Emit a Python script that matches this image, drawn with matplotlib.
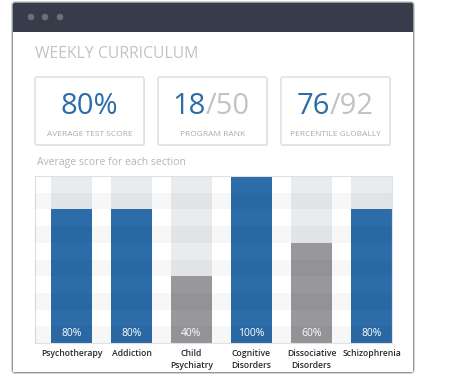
import matplotlib.pyplot as plt
from matplotlib.patches import FancyBboxPatch, Rectangle, Circle
from matplotlib.transforms import Affine2D

W, H = 450, 383

# data
categories = ["Psychotherapy", "Addiction", "Child\nPsychiatry",
              "Cognitive\nDisorders", "Dissociative\nDisorders", "Schizophrenia"]
scores = [80, 80, 40, 100, 60, 80]
stat_main = ["80%", "18", "76"]
stat_total = ["", "/50", "/92"]
stat_labels = ["AVERAGE TEST SCORE", "PROGRAM RANK", "PERCENTILE GLOBALLY"]

BLUE = "#2b6ca9"
GRAY = "#98979c"
LIGHT = "#c3c3c3"
FONT = "Open Sans"

fig = plt.figure(figsize=(W / 100, H / 100), dpi=100)
# pixel coords, origin top-left
px = Affine2D().scale(1 / W, -1 / H).translate(0, 1) + fig.transFigure

# window frame
fig.add_artist(FancyBboxPatch((12, 2), 402, 371, boxstyle="round,pad=0,rounding_size=3",
                              fc="#363c49", ec="none", transform=px, zorder=-3))
fig.add_artist(Rectangle((13, 32), 400, 340, fc="white", ec="none", transform=px, zorder=-2))
fig.add_artist(FancyBboxPatch((12, 2), 402, 371, boxstyle="round,pad=0,rounding_size=3",
                              fc="none", ec="#bfc0c6", lw=1.0, transform=px, zorder=-1))
for cx in (31, 45, 60):
    fig.add_artist(Circle((cx, 17), 3.3, fc="#6a6f7a", ec="none", transform=px))

fig.text(35, 54, "WEEKLY CURRICULUM", transform=px, fontsize=11.3, family=FONT,
         color=LIGHT, va="center", ha="left")

# stat boxes
box_x = [35, 158, 281]
split_x = [None, 206, 330]
for i in range(3):
    x0 = box_x[i]
    fig.add_artist(FancyBboxPatch((x0 + 1, 78), 109, 68, boxstyle="round,pad=0,rounding_size=2",
                                  fc="#ececec", ec="none", transform=px))
    fig.add_artist(FancyBboxPatch((x0, 77), 109, 68, boxstyle="round,pad=0,rounding_size=2",
                                  fc="white", ec="#dcdcdc", lw=1.0, transform=px))
    cx = x0 + 54.5
    if stat_total[i]:
        fig.text(split_x[i], 106, stat_main[i], transform=px, fontsize=21, family=FONT,
                 color=BLUE, ha="right", va="center")
        fig.text(split_x[i], 106, stat_total[i], transform=px, fontsize=21, family=FONT,
                 color=LIGHT, ha="left", va="center")
    else:
        fig.text(cx, 106, stat_main[i], transform=px, fontsize=21, family=FONT,
                 color=BLUE, ha="center", va="center")
    fig.text(cx, 134, stat_labels[i], transform=px, fontsize=6, family=FONT,
             color="#aaaaaa", ha="center", va="center")

fig.text(37, 163, "Average score for each section", transform=px, fontsize=7.5,
         family=FONT, color="#b5b5b5", ha="left", va="center")

# chart
ax = fig.add_axes([35 / W, 1 - 343 / H, (392 - 35) / W, (343 - 176) / H])
ax.set_zorder(5)
x = range(len(categories))
bw = 0.683
ax.bar(x, [100] * len(scores), width=bw, color="#e9ecef", zorder=1)
colors = [BLUE if s >= 80 else GRAY for s in scores]
ax.bar(x, scores, width=bw, color=colors, zorder=2)
for i in range(10):
    if i % 2 == 0:
        ax.axhspan(i * 10, i * 10 + 10, color="k", alpha=0.03, lw=0, zorder=3)
for xi, s in zip(x, scores):
    ax.text(xi, 5.5, f"{s}%", ha="center", va="center", color="white",
            fontsize=7.5, family=FONT, zorder=4)
ax.set_xlim(-0.608, 5.342)
ax.set_ylim(0, 100)
ax.set_yticks([])
ax.set_xticks(list(x))
ax.set_xticklabels(categories, fontsize=6.2, family=FONT, color="#2a2a2a",
                   fontweight="semibold", linespacing=1.5)
ax.tick_params(axis="x", length=0, pad=4)
for sp in ax.spines.values():
    sp.set_color("#e0e0e0")
    sp.set_linewidth(0.8)

fig.savefig("out.png", dpi=100)
